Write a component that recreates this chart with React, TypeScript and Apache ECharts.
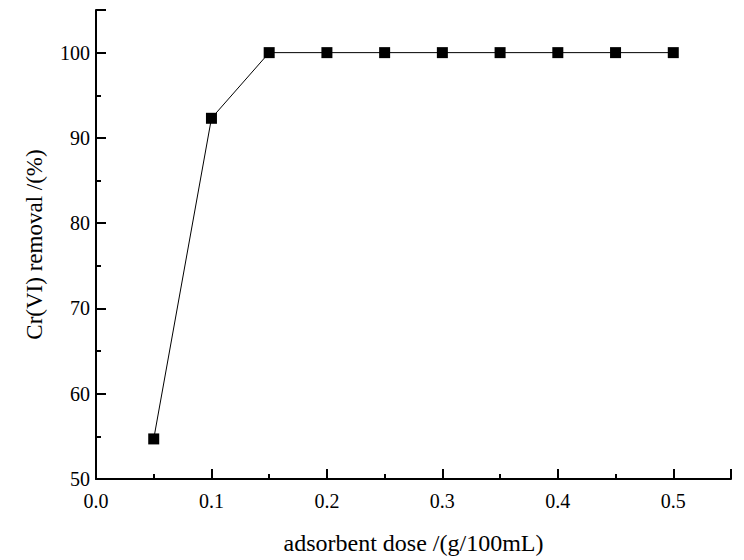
import React, { useEffect, useRef } from "react";
import * as echarts from "echarts";

const doses = [0.05, 0.1, 0.15, 0.2, 0.25, 0.3, 0.35, 0.4, 0.45, 0.5];
const removal = [54.7, 92.3, 100, 100, 100, 100, 100, 100, 100, 100];
const xTitle = "adsorbent dose /(g/100mL)";
const yTitle = "Cr(VI) removal /(%)";

export default function App() {
  const ref = useRef<HTMLDivElement>(null);
  useEffect(() => {
    if (!ref.current) return;
    const chart = echarts.init(ref.current, null, { renderer: "svg" });
    const font = "'Liberation Serif', 'Times New Roman', serif";
    const axisCommon = {
      axisLine: { show: true, lineStyle: { color: "#000", width: 2 } },
      axisTick: { show: true, inside: true, length: 10, lineStyle: { color: "#000", width: 2 } },
      minorTick: { show: true, splitNumber: 2, length: 5, lineStyle: { color: "#000", width: 2 } },
      splitLine: { show: false },
      nameLocation: "middle" as const,
    };
    chart.setOption({
      animation: false,
      backgroundColor: "#fff",
      grid: { left: 96, right: 13, top: 10, bottom: 79, containLabel: false },
      xAxis: {
        type: "value",
        min: 0,
        max: 0.55,
        interval: 0.1,
        name: xTitle,
        nameGap: 52,
        nameTextStyle: { fontFamily: font, fontSize: 24, color: "#000" },
        ...axisCommon,
        axisLabel: {
          fontFamily: font,
          fontSize: 20,
          color: "#000",
          margin: 12,
          formatter: (v: number) => (v > 0.5001 ? "" : v.toFixed(1)),
        },
      },
      yAxis: {
        type: "value",
        min: 50,
        max: 105,
        interval: 10,
        name: yTitle,
        nameGap: 50,
        nameTextStyle: { fontFamily: font, fontSize: 23, color: "#000" },
        ...axisCommon,
        axisLabel: {
          fontFamily: font,
          fontSize: 20,
          color: "#000",
          margin: 6,
          formatter: (v: number) => (v > 100.01 ? "" : String(v)),
        },
      },
      series: [
        {
          type: "line",
          data: doses.map((d, i) => [d, removal[i]]),
          symbol: "rect",
          symbolSize: 11,
          itemStyle: { color: "#000" },
          lineStyle: { color: "#000", width: 1 },
        },
      ],
    });
    return () => chart.dispose();
  }, []);
  return (
    <div
      ref={ref}
      style={{ position: "absolute", left: 0, top: 0, width: 744, height: 560 }}
    />
  );
}
